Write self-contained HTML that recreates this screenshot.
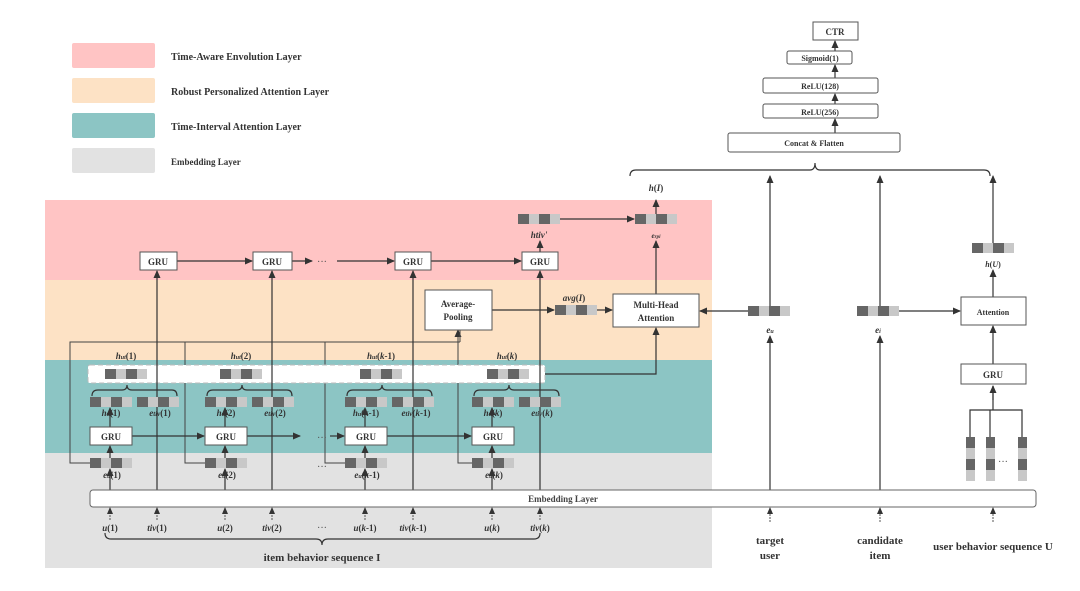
<!DOCTYPE html>
<html><head><meta charset="utf-8"><style>
html,body{margin:0;padding:0;background:#fff;}
svg{display:block;font-family:"Liberation Serif",serif;font-weight:bold;}
</style></head><body>
<svg width="1080" height="591" viewBox="0 0 1080 591" xmlns="http://www.w3.org/2000/svg">
<defs>
<marker id="a" markerWidth="8" markerHeight="8" refX="7" refY="4" orient="auto" markerUnits="userSpaceOnUse"><path d="M0,0.5 L8,4 L0,7.5z" fill="#333"/></marker>
<g id="v"><rect x="0" y="0" width="11" height="10" fill="#666"/><rect x="11" y="0" width="10" height="10" fill="#c8c8c8"/><rect x="21" y="0" width="11" height="10" fill="#666"/><rect x="32" y="0" width="10" height="10" fill="#c8c8c8"/></g>
<g id="vv"><rect x="0" y="0" width="9" height="11" fill="#666"/><rect x="0" y="11" width="9" height="11" fill="#c8c8c8"/><rect x="0" y="22" width="9" height="11" fill="#666"/><rect x="0" y="33" width="9" height="11" fill="#c8c8c8"/></g>
</defs>
<rect x="72" y="43" width="83" height="25" rx="2" fill="#ffc4c4"/>
<rect x="72" y="78" width="83" height="25" rx="2" fill="#fde2c5"/>
<rect x="72" y="113" width="83" height="25" rx="2" fill="#8cc5c4"/>
<rect x="72" y="148" width="83" height="25" rx="2" fill="#e2e2e2"/>
<g font-size="10" fill="#333">
<text x="171" y="60">Time-Aware Envolution Layer</text>
<text x="171" y="95">Robust Personalized Attention Layer</text>
<text x="171" y="130">Time-Interval Attention Layer</text>
<text x="171" y="165" font-size="9">Embedding Layer</text>
</g>
<rect x="45" y="200" width="667" height="80" fill="#ffc4c4"/>
<rect x="45" y="280" width="667" height="80" fill="#fde2c5"/>
<rect x="45" y="360" width="667" height="93" fill="#8cc5c4"/>
<rect x="45" y="453" width="667" height="115" fill="#e2e2e2"/>

<g stroke="#444" stroke-width="1" fill="none">
<path d="M90,463 H70 V342 H460"/>
<path d="M205,463 H185 V342"/>
<path d="M345,463 H325 V342"/>
<path d="M472,463 H458 V330" marker-end="url(#a)"/>
<path d="M460,342 V330"/>
</g>
<rect x="88" y="365" width="457" height="18" fill="#fff" stroke="#bbb" stroke-dasharray="5,3" rx="2"/>
<g stroke="#333" stroke-width="1.2" fill="none">
<path d="M157,490 V271" marker-end="url(#a)"/>
<path d="M272,490 V271" marker-end="url(#a)"/>
<path d="M413,490 V271" marker-end="url(#a)"/>
<path d="M540,490 V271" marker-end="url(#a)"/>
<path d="M110,490 V469" marker-end="url(#a)"/><path d="M110,458 V446" marker-end="url(#a)"/><path d="M110,427 V408" marker-end="url(#a)"/>
<path d="M225,490 V469" marker-end="url(#a)"/><path d="M225,458 V446" marker-end="url(#a)"/><path d="M225,427 V408" marker-end="url(#a)"/>
<path d="M365,490 V469" marker-end="url(#a)"/><path d="M365,458 V446" marker-end="url(#a)"/><path d="M365,427 V408" marker-end="url(#a)"/>
<path d="M492,490 V469" marker-end="url(#a)"/><path d="M492,458 V446" marker-end="url(#a)"/><path d="M492,427 V408" marker-end="url(#a)"/>
<path d="M132,436 H204" marker-end="url(#a)"/>
<path d="M247,436 H300" marker-end="url(#a)"/>
<path d="M330,436 H344" marker-end="url(#a)"/>
<path d="M387,436 H471" marker-end="url(#a)"/>
<path d="M177,261 H252" marker-end="url(#a)"/>
<path d="M292,261 H312" marker-end="url(#a)"/>
<path d="M337,261 H394" marker-end="url(#a)"/>
<path d="M431,261 H521" marker-end="url(#a)"/>
<path d="M540,252 V241" marker-end="url(#a)"/>
<path d="M560,219 H634" marker-end="url(#a)"/>
<path d="M656,294 V241" marker-end="url(#a)"/>
<path d="M656,214 V200" marker-end="url(#a)"/>
<path d="M492,310 H554" marker-end="url(#a)"/>
<path d="M597,310 H612" marker-end="url(#a)"/>
<path d="M545,374 H656 V328" marker-end="url(#a)"/>
<path d="M748,311 H700" marker-end="url(#a)"/>
<path d="M770,490 V336" marker-end="url(#a)"/>
<path d="M770,306 V176" marker-end="url(#a)"/>
<path d="M880,490 V336" marker-end="url(#a)"/>
<path d="M880,306 V176" marker-end="url(#a)"/>
<path d="M899,311 H960" marker-end="url(#a)"/>
<path d="M993,364 V326" marker-end="url(#a)"/>
<path d="M993,297 V270" marker-end="url(#a)"/>
<path d="M993,243 V176" marker-end="url(#a)"/>
<path d="M970,437 V410 H1022 V437 M990,410 V437 M993,410 V386" />
<path d="M993,400 V386" marker-end="url(#a)"/>
<path d="M835,133 V119" marker-end="url(#a)"/>
<path d="M835,104 V94" marker-end="url(#a)"/>
<path d="M835,78 V65" marker-end="url(#a)"/>
<path d="M835,51 V41" marker-end="url(#a)"/>
<path d="M630,176 Q630,170 636,170 H810 Q815,170 815,163 Q815,170 820,170 H984 Q990,170 990,176"/>
<path d="M92,396 Q92,390 98,390 H122 Q127,390 127,385 Q127,390 132,390 H172 Q177,390 177,396"/>
<path d="M207,396 Q207,390 213,390 H237 Q242,390 242,385 Q242,390 247,390 H287 Q292,390 292,396"/>
<path d="M347,396 Q347,390 353,390 H377 Q382,390 382,385 Q382,390 387,390 H427 Q432,390 432,396"/>
<path d="M474,396 Q474,390 480,390 H504 Q509,390 509,385 Q509,390 514,390 H554 Q559,390 559,396"/>
<path d="M105,533 Q105,539 111,539 H316 Q322,539 322,545 Q322,539 328,539 H534 Q540,539 540,533"/>
</g>
<g stroke="#555" stroke-width="1" stroke-dasharray="2,1">
<path d="M110,520 V509"/><path d="M157,520 V509"/><path d="M225,520 V509"/><path d="M272,520 V509"/><path d="M365,520 V509"/><path d="M413,520 V509"/><path d="M492,520 V509"/><path d="M540,520 V509"/><path d="M770,522 V509"/><path d="M880,522 V509"/><path d="M993,522 V509"/>
</g>
<g fill="#333"><path d="M107,514 L110,507 L113,514z"/><path d="M154,514 L157,507 L160,514z"/><path d="M222,514 L225,507 L228,514z"/><path d="M269,514 L272,507 L275,514z"/><path d="M362,514 L365,507 L368,514z"/><path d="M410,514 L413,507 L416,514z"/><path d="M489,514 L492,507 L495,514z"/><path d="M537,514 L540,507 L543,514z"/><path d="M767,514 L770,507 L773,514z"/><path d="M877,514 L880,507 L883,514z"/><path d="M990,514 L993,507 L996,514z"/></g>

<rect x="90" y="490" width="946" height="17" rx="3" fill="#fff" stroke="#666"/>
<text x="563" y="502" font-size="9" fill="#444" text-anchor="middle">Embedding Layer</text>

<g fill="#fff" stroke="#555" stroke-width="1">
<rect x="90" y="427" width="42" height="18"/><rect x="205" y="427" width="42" height="18"/><rect x="345" y="427" width="42" height="18"/><rect x="472" y="427" width="42" height="18"/>
<rect x="140" y="252" width="37" height="18"/><rect x="253" y="252" width="39" height="18"/><rect x="395" y="252" width="36" height="18"/><rect x="522" y="252" width="36" height="18"/>
<rect x="425" y="290" width="67" height="40"/>
<rect x="613" y="294" width="86" height="33"/>
<rect x="961" y="297" width="65" height="28"/>
<rect x="961" y="364" width="65" height="20"/>
<rect x="728" y="133" width="172" height="19" rx="2"/>
<rect x="763" y="104" width="115" height="14" rx="2"/>
<rect x="763" y="78" width="115" height="15" rx="2"/>
<rect x="787" y="51" width="65" height="13" rx="2"/>
<rect x="813" y="22" width="45" height="18"/>
</g>
<g font-size="9" fill="#333" text-anchor="middle">
<text x="111" y="440">GRU</text><text x="226" y="440">GRU</text><text x="366" y="440">GRU</text><text x="493" y="440">GRU</text>
<text x="158" y="265">GRU</text><text x="272" y="265">GRU</text><text x="413" y="265">GRU</text><text x="540" y="265">GRU</text>
<text x="458" y="307">Average-</text><text x="458" y="320">Pooling</text>
<text x="656" y="308">Multi-Head</text><text x="656" y="321">Attention</text>
<text x="993" y="315" font-size="8">Attention</text>
<text x="993" y="378">GRU</text>
<text x="814" y="146" font-size="8">Concat &amp; Flatten</text>
<text x="820" y="115" font-size="8">ReLU(256)</text>
<text x="820" y="89" font-size="8">ReLU(128)</text>
<text x="820" y="61" font-size="8">Sigmoid(1)</text>
<text x="835" y="35" font-size="9">CTR</text>
</g>
<use href="#v" x="90" y="458"/><use href="#v" x="205" y="458"/><use href="#v" x="345" y="458"/><use href="#v" x="472" y="458"/>
<use href="#v" x="90" y="397"/><use href="#v" x="137" y="397"/>
<use href="#v" x="205" y="397"/><use href="#v" x="252" y="397"/>
<use href="#v" x="345" y="397"/><use href="#v" x="392" y="397"/>
<use href="#v" x="472" y="397"/><use href="#v" x="519" y="397"/>
<use href="#v" x="105" y="369"/><use href="#v" x="220" y="369"/><use href="#v" x="360" y="369"/><use href="#v" x="487" y="369"/>
<use href="#v" x="518" y="214"/><use href="#v" x="635" y="214"/>
<use href="#v" x="555" y="305"/>
<use href="#v" x="748" y="306"/><use href="#v" x="857" y="306"/>
<use href="#v" x="972" y="243"/>
<use href="#vv" x="966" y="437"/><use href="#vv" x="986" y="437"/><use href="#vv" x="1018" y="437"/>
<g font-size="9" fill="#333" text-anchor="middle" font-style="italic">
<text x="112" y="478">e<tspan font-size="6">u</tspan><tspan font-style="normal">(1)</tspan></text>
<text x="227" y="478">e<tspan font-size="6">u</tspan><tspan font-style="normal">(2)</tspan></text>
<text x="367" y="478">e<tspan font-size="6">u</tspan><tspan font-style="normal">(</tspan>k<tspan font-style="normal">-1)</tspan></text>
<text x="494" y="478">e<tspan font-size="6">u</tspan><tspan font-style="normal">(</tspan>k<tspan font-style="normal">)</tspan></text>
<text x="111" y="416">h<tspan font-size="6">u</tspan><tspan font-style="normal">(1)</tspan></text>
<text x="160" y="416">e<tspan font-size="7">tiv</tspan><tspan font-style="normal">(1)</tspan></text>
<text x="226" y="416">h<tspan font-size="6">u</tspan><tspan font-style="normal">(2)</tspan></text>
<text x="275" y="416">e<tspan font-size="7">tiv</tspan><tspan font-style="normal">(2)</tspan></text>
<text x="366" y="416">h<tspan font-size="6">u</tspan><tspan font-style="normal">(</tspan>k<tspan font-style="normal">-1)</tspan></text>
<text x="416" y="416">e<tspan font-size="7">tiv</tspan><tspan font-style="normal">(</tspan>k<tspan font-style="normal">-1)</tspan></text>
<text x="493" y="416">h<tspan font-size="6">u</tspan><tspan font-style="normal">(</tspan>k<tspan font-style="normal">)</tspan></text>
<text x="542" y="416">e<tspan font-size="7">tiv</tspan><tspan font-style="normal">(</tspan>k<tspan font-style="normal">)</tspan></text>
<text x="126" y="359">h<tspan font-size="6">ut</tspan><tspan font-style="normal">(1)</tspan></text>
<text x="241" y="359">h<tspan font-size="6">ut</tspan><tspan font-style="normal">(2)</tspan></text>
<text x="381" y="359">h<tspan font-size="6">ut</tspan><tspan font-style="normal">(</tspan>k<tspan font-style="normal">-1)</tspan></text>
<text x="507" y="359">h<tspan font-size="6">ut</tspan><tspan font-style="normal">(</tspan>k<tspan font-style="normal">)</tspan></text>
<text x="539" y="238">htiv'</text>
<text x="656" y="238" font-size="7">e<tspan font-size="5">rpi</tspan></text>
<text x="656" y="191">h<tspan font-style="normal">(</tspan>I<tspan font-style="normal">)</tspan></text>
<text x="574" y="301">avg<tspan font-style="normal">(</tspan>I<tspan font-style="normal">)</tspan></text>
<text x="770" y="333">e<tspan font-size="6">u</tspan></text>
<text x="878" y="333">e<tspan font-size="6">i</tspan></text>
<text x="993" y="267" font-size="8">h<tspan font-style="normal">(</tspan>U<tspan font-style="normal">)</tspan></text>
<text x="110" y="531">u<tspan font-style="normal">(1)</tspan></text>
<text x="157" y="531">tiv<tspan font-style="normal">(1)</tspan></text>
<text x="225" y="531">u<tspan font-style="normal">(2)</tspan></text>
<text x="272" y="531">tiv<tspan font-style="normal">(2)</tspan></text>
<text x="365" y="531">u<tspan font-style="normal">(</tspan>k<tspan font-style="normal">-1)</tspan></text>
<text x="413" y="531">tiv<tspan font-style="normal">(</tspan>k<tspan font-style="normal">-1)</tspan></text>
<text x="492" y="531">u<tspan font-style="normal">(</tspan>k<tspan font-style="normal">)</tspan></text>
<text x="540" y="531">tiv<tspan font-style="normal">(</tspan>k<tspan font-style="normal">)</tspan></text>
</g>
<g font-size="10" fill="#555" text-anchor="middle" font-weight="normal">
<text x="322" y="265">···</text><text x="322" y="441">···</text><text x="322" y="470">···</text><text x="322" y="531">···</text><text x="1003" y="465">···</text>
</g>
<g font-size="11" fill="#333" text-anchor="middle">
<text x="322" y="561">item behavior sequence I</text>
<text x="770" y="544">target</text><text x="770" y="559">user</text>
<text x="880" y="544">candidate</text><text x="880" y="559">item</text>
<text x="993" y="550">user behavior sequence U</text>
</g>
</svg>
</body></html>
